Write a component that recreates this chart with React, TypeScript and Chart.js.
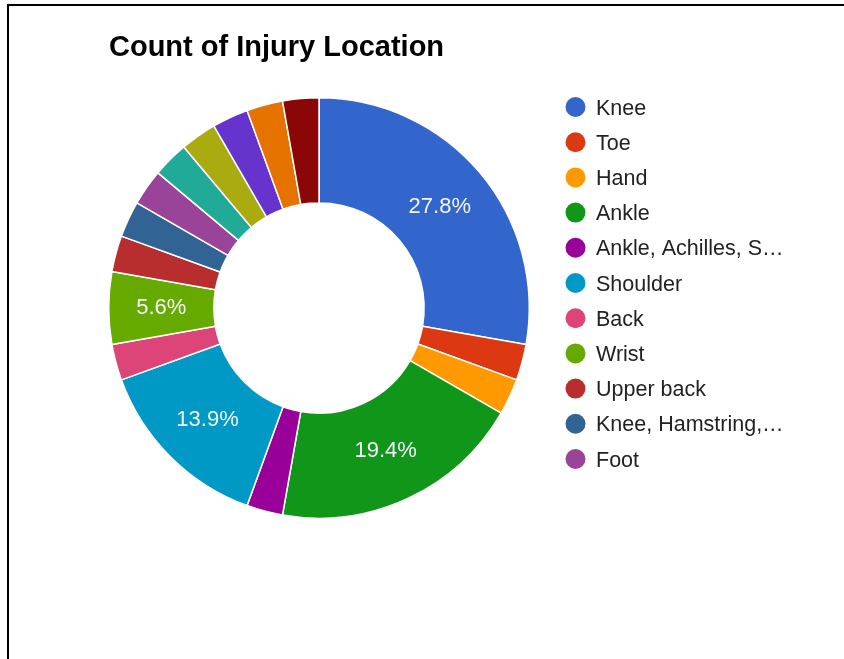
import React, { useEffect, useRef } from "react";
import { Chart, registerables } from "chart.js";

Chart.register(...registerables);

const title = "Count of Injury Location";
const categories = [
  "Knee",
  "Toe",
  "Hand",
  "Ankle",
  "Ankle, Achilles, S…",
  "Shoulder",
  "Back",
  "Wrist",
  "Upper back",
  "Knee, Hamstring,…",
  "Foot",
  "Hip",
  "Neck",
  "Elbow",
  "Calf",
  "Hamstring",
];
const counts = [10, 1, 1, 7, 1, 5, 1, 2, 1, 1, 1, 1, 1, 1, 1, 1];
const colors = [
  "#3366cc",
  "#dc3912",
  "#ff9900",
  "#109618",
  "#990099",
  "#0099c6",
  "#dd4477",
  "#66aa00",
  "#b82e2e",
  "#316395",
  "#994499",
  "#22aa99",
  "#aaaa11",
  "#6633cc",
  "#e67300",
  "#8b0707",
];
const legendCount = 11;
const labelThreshold = 0.05;

const FONT = '"Liberation Sans", Arial, sans-serif';

const overlayPlugin = {
  id: "overlay",
  afterDraw(chart: any) {
    const ctx = chart.ctx as CanvasRenderingContext2D;
    const ds = chart.data.datasets[0];
    const vals = ds.data as number[];
    const total = vals.reduce((a, b) => a + b, 0);
    const meta = chart.getDatasetMeta(0);
    ctx.save();
    // slice percentage labels
    ctx.fillStyle = "#f4f6ff";
    ctx.font = `22px ${FONT}`;
    ctx.textAlign = "center";
    ctx.textBaseline = "middle";
    meta.data.forEach((arc: any, i: number) => {
      const frac = vals[i] / total;
      if (frac < labelThreshold) return;
      const p = arc.tooltipPosition();
      ctx.fillText((frac * 100).toFixed(1) + "%", p.x, p.y);
    });
    // title
    ctx.fillStyle = "#000000";
    ctx.font = `bold 29px ${FONT}`;
    ctx.textAlign = "left";
    ctx.textBaseline = "alphabetic";
    ctx.fillText(title, 109, 56);
    // legend
    const labels = chart.data.labels as string[];
    ctx.font = `21.5px ${FONT}`;
    for (let i = 0; i < Math.min(legendCount, labels.length); i++) {
      const cy = 107 + i * 35.2;
      ctx.beginPath();
      ctx.fillStyle = (ds.backgroundColor as string[])[i];
      ctx.arc(575.5, cy, 10, 0, Math.PI * 2);
      ctx.fill();
      ctx.fillStyle = "#222222";
      ctx.fillText(labels[i], 596, cy + 7.5);
    }
    ctx.restore();
  },
};

export default function App() {
  const ref = useRef<HTMLCanvasElement | null>(null);
  useEffect(() => {
    if (!ref.current) return;
    const chart = new Chart(ref.current, {
      type: "doughnut",
      data: {
        labels: categories,
        datasets: [
          {
            data: counts,
            backgroundColor: colors,
            borderColor: "#ffffff",
            borderWidth: 1.5,
          },
        ],
      },
      options: {
        responsive: false,
        animation: false,
        cutout: "50%",
        layout: { padding: { left: 108, top: 97, right: 314, bottom: 140 } },
        plugins: {
          legend: { display: false },
          title: { display: false },
          tooltip: { enabled: false },
        },
      },
      plugins: [overlayPlugin],
    });
    return () => chart.destroy();
  }, []);
  return (
    <div style={{ position: "absolute", left: 0, top: 0, width: 844, height: 659, background: "#fff", overflow: "hidden" }}>
      <div
        style={{
          position: "absolute",
          left: 7,
          top: 4,
          right: -10,
          bottom: -10,
          borderLeft: "2px solid #000",
          borderTop: "2px solid #000",
        }}
      />
      <canvas ref={ref} width={844} height={659} style={{ position: "absolute", left: 0, top: 0 }} />
    </div>
  );
}
